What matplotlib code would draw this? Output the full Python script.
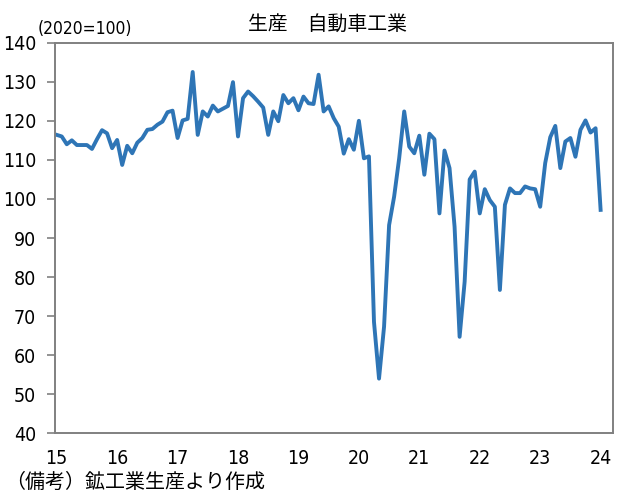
import matplotlib
matplotlib.use("Agg")
import matplotlib.pyplot as plt
from matplotlib import font_manager
from matplotlib.font_manager import FontProperties

# monthly index, Jan 2015 .. Jan 2024 (2020=100)
production = [
    116.4, 116.0, 114.0, 115.0, 113.8, 113.8, 113.8, 112.8, 115.3, 117.6, 116.8, 113.0,
    115.1, 108.7, 113.6, 111.7, 114.4, 115.6, 117.7, 117.9, 119.0, 119.8, 122.2, 122.6,
    115.6, 120.1, 120.5, 132.5, 116.4, 122.4, 121.1, 123.9, 122.4, 123.1, 123.8, 129.9,
    116.0, 125.8, 127.5, 126.3, 124.9, 123.4, 116.4, 122.4, 119.9, 126.6, 124.5, 125.8,
    122.7, 126.2, 124.5, 124.3, 131.8, 122.4, 123.7, 120.7, 118.5, 111.6, 115.3, 112.6,
    120.0, 110.4, 110.9, 68.5, 54.0, 67.3, 93.3, 100.6, 110.4, 122.4, 113.4, 111.7,
    116.2, 106.2, 116.7, 115.3, 96.3, 112.4, 107.9, 92.9, 64.7, 78.8, 105.0, 107.0,
    96.3, 102.5, 99.7, 98.0, 76.7, 98.5, 102.7, 101.5, 101.5, 103.2, 102.7, 102.5,
    98.0, 109.2, 115.8, 118.7, 107.9, 114.7, 115.6, 110.8, 117.7, 120.1, 117.0, 118.1,
    97.2,
]
year_labels = ["15", "16", "17", "18", "19", "20", "21", "22", "23", "24"]
y_ticks = [40, 50, 60, 70, 80, 90, 100, 110, 120, 130, 140]

# look for a narrow face for the digits (reference uses a condensed gothic)
narrow = None
for f in font_manager.fontManager.ttflist:
    fn = f.fname.lower()
    if ("narrow" in fn or "condensed" in fn) and "bold" not in fn and "italic" not in fn \
            and "oblique" not in fn and "light" not in fn and "semi" not in fn \
            and "extra" not in fn and "medium" not in fn and "black" not in fn and "thin" not in fn:
        narrow = f.fname
        break

if narrow:
    num_size = 14
    def num_prop(size):
        return FontProperties(fname=narrow, size=size)
else:
    num_size = 13
    def num_prop(size):
        return FontProperties(family="Liberation Sans", size=size)

jp_font = "Noto Sans CJK JP"
plt.rcParams["font.family"] = [jp_font, "DejaVu Sans"]

fig = plt.figure(figsize=(6.27, 4.92), dpi=100)
ax = fig.add_axes([55 / 627, 1 - 433.3 / 492, (612.7 - 55) / 627, (433.3 - 42.7) / 492])

x = list(range(len(production)))
ax.plot(x, production, color="#2e75b6", lw=2.8, solid_joinstyle="round")

ax.set_xlim(-0.34, 110.4)
ax.set_ylim(40, 140)
ax.set_yticks(y_ticks)
ax.set_xticks([12 * i for i in range(len(year_labels))])
ax.set_xticklabels(year_labels)

for lab in ax.get_xticklabels() + ax.get_yticklabels():
    lab.set_fontproperties(num_prop(num_size))

ax.tick_params(axis="y", length=5.5, width=1.2, color="#808080", pad=8)
ax.tick_params(axis="x", length=0, pad=11)
for s in ax.spines.values():
    s.set_color("#808080")
    s.set_linewidth(1.4)

fig.text(327.5 / 627, 1 - 24 / 492, "生産　自動車工業", ha="center", va="center",
         fontsize=14.3, family=[jp_font, "DejaVu Sans"])
fig.text(38 / 627, 1 - 29 / 492, "(2020=100)", ha="left", va="center",
         fontproperties=num_prop(num_size - 1.5))
fig.text(5 / 627, 1 - 482 / 492, "（備考）鉱工業生産より作成", ha="left", va="center",
         fontsize=14.4, family=[jp_font, "DejaVu Sans"])

fig.savefig("out.png", dpi=100)
